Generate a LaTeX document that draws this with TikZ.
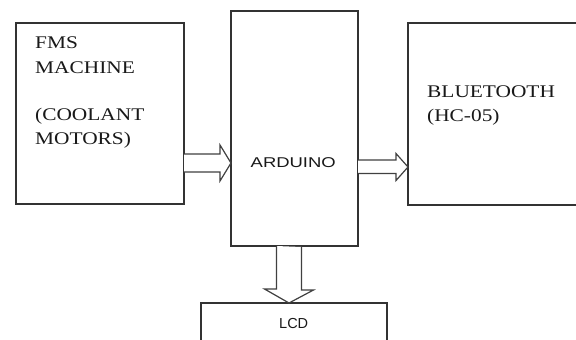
\documentclass[tikz,border=0pt]{standalone}
\usepackage{fontspec}
\setmainfont{Liberation Serif}
\newfontfamily\arialf{Liberation Sans}
\usetikzlibrary{calc}
\tikzset{
  boxstyle/.style={draw=black!80, line width=1.2pt, inner sep=0pt, outer sep=0pt},
  barrow/.style={draw=black!75, line width=1.2pt, fill=white, line join=miter},
  sertext/.style={anchor=base west, inner sep=0pt, text=black!90, font=\fontsize{17.8}{20}\selectfont},
  santext/.style={anchor=base west, inner sep=0pt, text=black!90},
}
\newcommand{\hx}[2]{\scalebox{#1}[1]{#2}}
\begin{document}
\begin{tikzpicture}[x=1pt,y=-1pt]
\useasboundingbox (0,0) rectangle (576,340);
\clip (0,0) rectangle (576,340);
\fill[white] (0,0) rectangle (576,340);
% boxes
\node[boxstyle, minimum width=168pt, minimum height=181pt] (fms) at (100,113.5) {};
\node[boxstyle, minimum width=127pt, minimum height=235pt] (ard) at (294.5,128.5) {};
\node[boxstyle, minimum width=182pt, minimum height=182pt] (bt) at (499,114) {};
\node[boxstyle, minimum width=186pt, minimum height=57pt] (lcd) at (294,331.5) {};
% texts
\node[sertext] (t1) at (35,48) {\hx{1.2}{FMS}};
\node[sertext] (t2) at (35,73) {\hx{1.2}{MACHINE}};
\node[sertext] (t3) at (35,120) {\hx{1.2}{(COOLANT}};
\node[sertext] (t4) at (35,144) {\hx{1.2}{MOTORS)}};
\node[sertext] (t5) at (427,97) {\hx{1.2}{BLUETOOTH}};
\node[sertext] (t6) at (427,121) {\hx{1.2}{(HC-05)}};
\node[santext, font=\arialf\fontsize{14.2}{16}\selectfont] (ardt) at (250.5,167) {\hx{1.3}{ARDUINO}};
\node[santext, font=\arialf\fontsize{14.5}{16}\selectfont] (lcdt) at (279,328) {LCD};
% arrows
\coordinate (m1) at (0,163);
\draw[barrow] ($(fms.east |- m1)+(0,-9)$) -- ++(36,0) -- ++(0,-9) -- (ard.west |- m1) -- ++(-11,18) -- ++(0,-9) -- ++(-36,0);
\coordinate (m2) at (0,167);
\draw[barrow] ($(ard.east |- m2)+(0,-7)$) -- ++(38,0) -- ++(0,-6.5) -- (bt.west |- m2) -- ++(-12,13.5) -- ++(0,-7) -- ++(-38,0);
\coordinate (m3) at (289,0);
\draw[barrow] ($(ard.south -| m3)+(-12.5,0)$) -- ++(0,43) -- ++(-12,0) -- (lcd.north -| m3) -- ++(24.5,-13) -- ++(-12,0) -- ++(0,-43);
\end{tikzpicture}
\end{document}
